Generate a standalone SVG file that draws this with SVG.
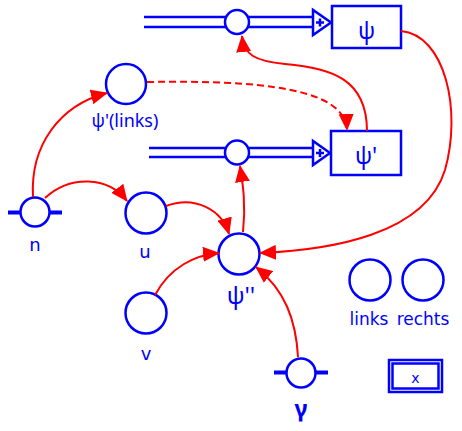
<svg xmlns="http://www.w3.org/2000/svg" width="462" height="431" viewBox="0 0 462 431">
<style>
.b{fill:#fff;stroke:#0000ff;stroke-width:2.5}
.bl{fill:none;stroke:#0000ff;stroke-width:2.5}
.bar{stroke:#0000ff;stroke-width:4}
.t{font-family:"DejaVu Sans","Noto Sans",sans-serif;fill:#0000ff;text-anchor:middle}
.g{font-family:"Noto Sans","DejaVu Sans",sans-serif;fill:#0000ff;text-anchor:middle}
.c{fill:none;stroke:#ff0000;stroke-width:2;marker-end:url(#ah)}
</style>
<defs>
<marker id="ah" markerUnits="userSpaceOnUse" markerWidth="17" markerHeight="15" refX="16" refY="7.5" orient="auto" viewBox="0 0 17 15">
<path d="M0,0 L17,7.5 L0,15 Z" fill="#ff0000"/>
</marker>
</defs>
<g id="sum1">
<line x1="144" y1="17" x2="313" y2="17" class="bl"/>
<line x1="144" y1="27" x2="313" y2="27" class="bl"/>
<circle cx="237" cy="22" r="12" class="b"/>
<path d="M313,10 L313,35 L331,22.5 Z" class="b"/>
<path d="M316,22.5 H324 M320,18.5 V26.5" class="bl" stroke-width="2"/>
</g>
<g id="psi">
<rect x="332" y="6" width="69" height="42" class="b"/>
<text x="366.5" y="39" class="g" font-size="23">ψ</text>
</g>
<g id="sum2">
<line x1="149" y1="148" x2="313" y2="148" class="bl"/>
<line x1="149" y1="157" x2="313" y2="157" class="bl"/>
<circle cx="237" cy="152.5" r="12" class="b"/>
<path d="M313,141 L313,165 L330,153 Z" class="b"/>
<path d="M316,153 H324 M320,149 V157" class="bl" stroke-width="2"/>
</g>
<g id="psi1">
<rect x="331" y="131" width="70" height="44" class="b"/>
<text x="366" y="164" class="g" font-size="23">ψ'</text>
</g>
<g id="psilinks">
<circle cx="126" cy="84" r="20" class="b"/>
<text x="125" y="127" class="g" font-size="18">ψ'(links)</text>
</g>
<g id="n">
<line x1="8" y1="212.5" x2="62" y2="212.5" class="bar"/>
<circle cx="35" cy="212" r="14.5" class="b"/>
<text x="35" y="251" class="t" font-size="18">n</text>
</g>
<g id="u">
<circle cx="146" cy="213" r="20.5" class="b"/>
<text x="145" y="258" class="t" font-size="18">u</text>
</g>
<g id="psi2">
<circle cx="239" cy="254" r="20.5" class="b"/>
<text x="241" y="304" class="g" font-size="24">ψ''</text>
</g>
<g id="v">
<circle cx="146" cy="313" r="20.5" class="b"/>
<text x="146" y="360" class="t" font-size="18">v</text>
</g>
<g id="gamma">
<line x1="274" y1="372.5" x2="328" y2="372.5" class="bar"/>
<circle cx="301" cy="373" r="14.5" class="b"/>
<text x="301" y="417" class="g" font-size="23" font-weight="bold">γ</text>
</g>
<g id="links">
<circle cx="370" cy="280" r="20.5" class="b"/>
<text x="369" y="325" class="t" font-size="17">links</text>
</g>
<g id="rechts">
<circle cx="423" cy="280" r="20.5" class="b"/>
<text x="423" y="325" class="t" font-size="17">rechts</text>
</g>
<g id="xbox">
<rect x="389" y="360" width="53" height="32" class="bl" stroke-width="2"/>
<rect x="392.5" y="363.5" width="46" height="25" class="bl" stroke-width="2"/>
<text x="415.5" y="383" class="t" font-size="14">x</text>
</g>
<g id="connectors">
<path d="M33,197 C30,145 60,105 107,93" class="c"/>
<path d="M45,198 C70,175 108,176 127,201" class="c"/>
<path d="M166,206 C195,195 222,210 229,234" class="c"/>
<path d="M155,295 C170,267 195,255 219,253" class="c"/>
<path d="M298,357 C296,320 285,290 256,267" class="c"/>
<path d="M401,31 C445,35 462,110 445,170 C425,235 330,250 260,253" class="c"/>
<path d="M243,232 C246,205 243,185 240,166" class="c"/>
<path d="M367,131 C367,78 330,68 285,64 C255,61 244,55 242,36" class="c"/>
<path d="M147,82 C260,80 345,88 347,130" class="c" stroke-dasharray="7,4"/>
</g>
</svg>
